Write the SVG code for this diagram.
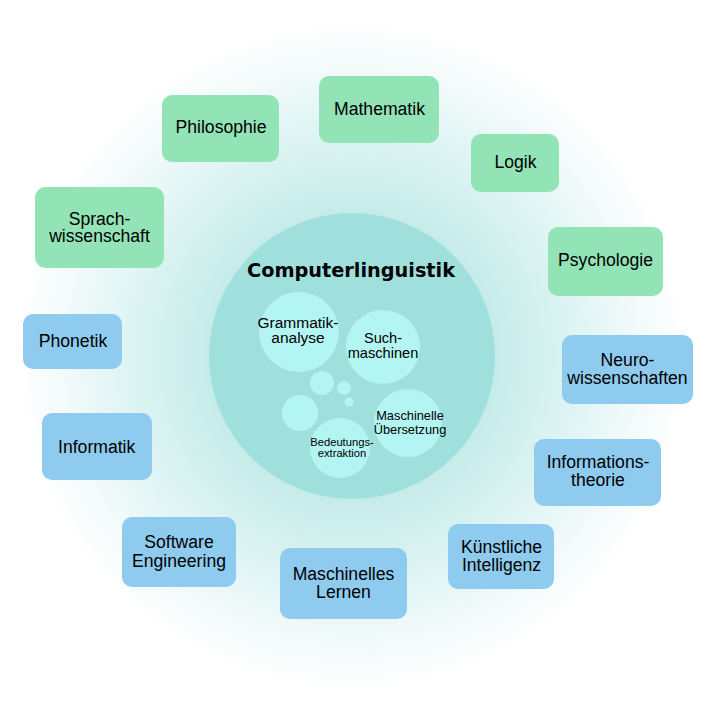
<svg xmlns="http://www.w3.org/2000/svg" width="712" height="703" viewBox="0 0 712 703">
  <defs>
    <radialGradient id="glow" cx="352" cy="356" r="345" gradientUnits="userSpaceOnUse">
      <stop offset="0" stop-color="#b6e6e4"/>
      <stop offset="0.42" stop-color="#c6ecea"/>
      <stop offset="0.62" stop-color="#daf3f2"/>
      <stop offset="0.8" stop-color="#eff9f9"/>
      <stop offset="0.97" stop-color="#ffffff"/>
    </radialGradient>
    <style>
      .g { fill: #92e3b6; }
      .b { fill: #8ecbef; }
      .t { font-family: "Liberation Sans", Arial, sans-serif; font-size: 17.6px; fill: #000; text-anchor: middle; }
      .sub { fill: #b3f5f2; }
      .it { font-family: "Liberation Sans", Arial, sans-serif; fill: #000; text-anchor: middle; }
    </style>
  </defs>
  <rect x="0" y="0" width="712" height="703" fill="#ffffff"/>
  <circle cx="352" cy="356" r="345" fill="url(#glow)"/>

  <g id="computerlinguistik">
    <circle cx="352" cy="356" r="143" fill="#9fe0dd"/>
    <text x="351" y="277" font-family="DejaVu Sans, Verdana, sans-serif" font-weight="bold" font-size="19.3" text-anchor="middle">Computerlinguistik</text>
    <g id="grammatikanalyse">
      <circle class="sub" cx="299" cy="332" r="40"/>
      <text class="it" font-size="15.5" x="298" y="328">Grammatik-</text>
      <text class="it" font-size="15.5" x="298" y="343">analyse</text>
    </g>
    <g id="suchmaschinen">
      <circle class="sub" cx="383" cy="347" r="37"/>
      <text class="it" font-size="14.6" x="383" y="343">Such-</text>
      <text class="it" font-size="14.6" x="383" y="358">maschinen</text>
    </g>
    <g id="bubbles">
      <circle class="sub" cx="322" cy="383" r="12"/>
      <circle class="sub" cx="344" cy="388" r="7"/>
      <circle class="sub" cx="349" cy="402" r="4.5"/>
      <circle class="sub" cx="300" cy="413" r="18"/>
    </g>
    <g id="uebersetzung">
      <circle class="sub" cx="408" cy="423" r="34"/>
      <text class="it" font-size="12.8" x="410" y="420">Maschinelle</text>
      <text class="it" font-size="12.8" x="410" y="433.5">Übersetzung</text>
    </g>
    <g id="bedeutungsextraktion">
      <circle class="sub" cx="340" cy="448" r="30"/>
      <text class="it" font-size="11.2" x="342" y="446">Bedeutungs-</text>
      <text class="it" font-size="11.2" x="342" y="457">extraktion</text>
    </g>
  </g>

  <g id="connectors"></g>

  <g id="philosophie">
    <rect class="g" x="162" y="95" width="117" height="67" rx="10"/>
    <text class="t" x="221" y="133">Philosophie</text>
  </g>
  <g id="mathematik">
    <rect class="g" x="319" y="76" width="120" height="67" rx="10"/>
    <text class="t" x="379.5" y="115">Mathematik</text>
  </g>
  <g id="logik">
    <rect class="g" x="471" y="134" width="88" height="58" rx="10"/>
    <text class="t" x="515.5" y="168">Logik</text>
  </g>
  <g id="psychologie">
    <rect class="g" x="548" y="227" width="115" height="69" rx="10"/>
    <text class="t" x="605.5" y="266">Psychologie</text>
  </g>
  <g id="sprachwissenschaft">
    <rect class="g" x="35" y="187" width="129" height="81" rx="11"/>
    <text class="t" x="99.5" y="225">Sprach-</text>
    <text class="t" x="99.5" y="242">wissenschaft</text>
  </g>
  <g id="phonetik">
    <rect class="b" x="23" y="314" width="99" height="55" rx="10"/>
    <text class="t" x="73" y="347">Phonetik</text>
  </g>
  <g id="neurowissenschaften">
    <rect class="b" x="562" y="335" width="131" height="69" rx="10"/>
    <text class="t" x="627.5" y="366">Neuro-</text>
    <text class="t" x="627.5" y="384">wissenschaften</text>
  </g>
  <g id="informatik">
    <rect class="b" x="42" y="413" width="110" height="67" rx="10"/>
    <text class="t" x="96.7" y="452.5">Informatik</text>
  </g>
  <g id="informationstheorie">
    <rect class="b" x="534" y="439" width="127" height="67" rx="10"/>
    <text class="t" x="598" y="468">Informations-</text>
    <text class="t" x="598" y="486">theorie</text>
  </g>
  <g id="software-engineering">
    <rect class="b" x="122" y="517" width="114" height="70" rx="10"/>
    <text class="t" x="179" y="548">Software</text>
    <text class="t" x="179" y="566.5">Engineering</text>
  </g>
  <g id="maschinelles-lernen">
    <rect class="b" x="280" y="548" width="127" height="71" rx="10"/>
    <text class="t" x="343.5" y="580">Maschinelles</text>
    <text class="t" x="343.5" y="597.5">Lernen</text>
  </g>
  <g id="kuenstliche-intelligenz">
    <rect class="b" x="448" y="524" width="106" height="65" rx="10"/>
    <text class="t" x="501.5" y="553">Künstliche</text>
    <text class="t" x="501.5" y="571">Intelligenz</text>
  </g>
</svg>
